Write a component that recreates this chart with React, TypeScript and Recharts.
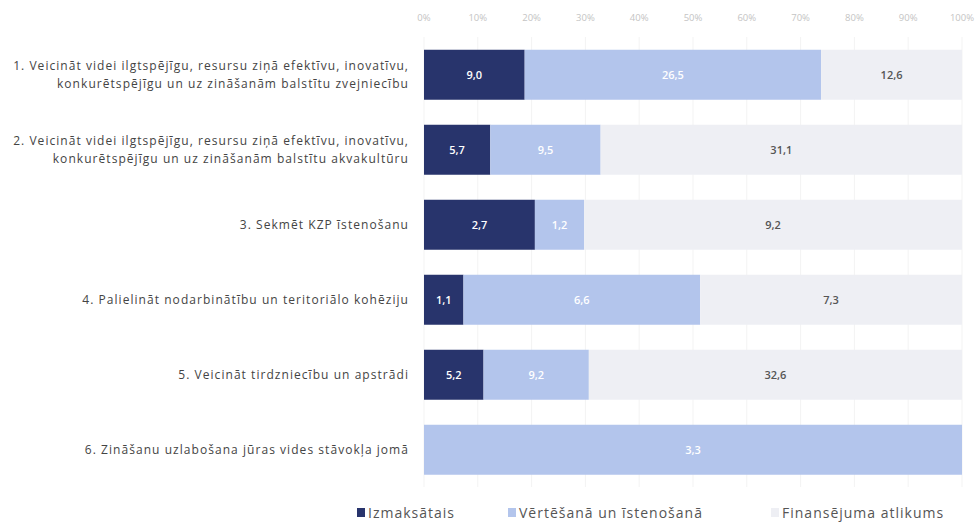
import React from 'react';
import { BarChart, Bar, XAxis, YAxis, CartesianGrid, LabelList } from 'recharts';

const categories = [
  '1. Veicināt videi ilgtspējīgu, resursu ziņā efektīvu, inovatīvu,\nkonkurētspējīgu un uz zināšanām balstītu zvejniecību',
  '2. Veicināt videi ilgtspējīgu, resursu ziņā efektīvu, inovatīvu,\nkonkurētspējīgu un uz zināšanām balstītu akvakultūru',
  '3. Sekmēt KZP īstenošanu',
  '4. Palielināt nodarbinātību un teritoriālo kohēziju',
  '5. Veicināt tirdzniecību un apstrādi',
  '6. Zināšanu uzlabošana jūras vides stāvokļa jomā',
];

const paid = [9.0, 5.7, 2.7, 1.1, 5.2, 0];
const inProgress = [26.5, 9.5, 1.2, 6.6, 9.2, 3.3];
const remaining = [12.6, 31.1, 9.2, 7.3, 32.6, 0];

const xTicks = [0, 0.1, 0.2, 0.3, 0.4, 0.5, 0.6, 0.7, 0.8, 0.9, 1];

const series = [
  { key: 'paid', name: 'Izmaksātais', color: '#28346c', label: '#ffffff', legendX: 357 },
  { key: 'inProgress', name: 'Vērtēšanā un īstenošanā', color: '#b3c5ec', label: '#ffffff', legendX: 508 },
  { key: 'remaining', name: 'Finansējuma atlikums', color: '#eeeff4', label: '#555555', legendX: 771 },
];

const data = categories.map((c, i) => ({
  name: c,
  paid: paid[i],
  inProgress: inProgress[i],
  remaining: remaining[i],
}));

const FONT = '"Open Sans", sans-serif';

const fmt = (v: any) => (v ? Number(v).toFixed(1).replace('.', ',') : '');

const CategoryTick = (props: any) => {
  const { x, y, payload } = props;
  const lines: string[] = String(payload.value).split('\n');
  const lh = 18;
  const start = -((lines.length - 1) * lh) / 2;
  return (
    <text x={x} y={y} textAnchor="end" fill="#444" fontSize={12} letterSpacing={1.05} fontFamily={FONT}>
      {lines.map((l, i) => (
        <tspan key={i} x={x} y={y + start + i * lh} dy="0.35em">
          {l}
        </tspan>
      ))}
    </text>
  );
};

export default function App() {
  return (
    <div style={{ position: 'absolute', left: 0, top: 0, width: 979, height: 524, background: '#fff' }}>
      <BarChart
        width={979}
        height={524}
        data={data}
        layout="vertical"
        stackOffset="expand"
        barCategoryGap="17%"
        margin={{ top: 0, right: 17, bottom: 37, left: 0 }}
      >
        <CartesianGrid horizontal={false} stroke="#f3f3f3" />
        <XAxis
          type="number"
          orientation="top"
          domain={[0, 1]}
          ticks={xTicks}
          tickFormatter={(v: number) => `${Math.round(v * 100)}%`}
          axisLine={false}
          tickLine={false}
          height={37}
          tickMargin={10}
          tick={{ fill: '#c4c4c4', fontSize: 9.5, fontFamily: FONT }}
        />
        <YAxis
          type="category"
          dataKey="name"
          width={424}
          axisLine={false}
          tickLine={false}
          tickMargin={9}
          tick={<CategoryTick />}
          interval={0}
        />
        {series.map((s) => (
          <Bar key={s.key} dataKey={s.key} name={s.name} stackId="a" fill={s.color} isAnimationActive={false}>
            <LabelList
              dataKey={s.key}
              position="center"
              formatter={fmt}
              fill={s.label}
              fontSize={11}
              fontWeight={600}
              fontFamily={FONT}
            />
          </Bar>
        ))}
      </BarChart>
      {series.map((s) => (
        <div
          key={s.key}
          style={{
            position: 'absolute',
            left: s.legendX,
            top: 503,
            display: 'flex',
            alignItems: 'center',
            fontFamily: FONT,
            fontSize: 14,
            letterSpacing: 1,
            color: '#555',
            whiteSpace: 'nowrap',
          }}
        >
          <span style={{ width: 8, height: 9, background: s.color, display: 'inline-block', marginRight: 3 }} />
          <span>{s.name}</span>
        </div>
      ))}
    </div>
  );
}
